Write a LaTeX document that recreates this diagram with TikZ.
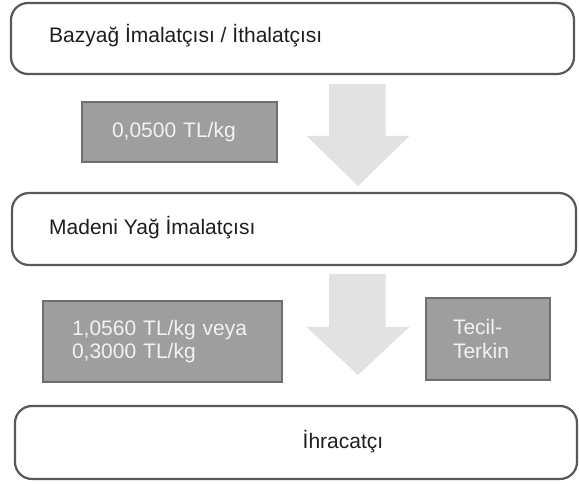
\documentclass[tikz,border=0pt]{standalone}
\usepackage{fontspec}
\setmainfont{Liberation Sans}
\definecolor{rim}{HTML}{585858}
\definecolor{ink}{HTML}{1E1E1E}
\definecolor{feefill}{HTML}{9E9E9E}
\definecolor{feerim}{HTML}{6E6E6E}
\definecolor{feetext}{HTML}{F2F2F2}
\definecolor{flowfill}{HTML}{E2E2E2}

\begin{document}
\begin{tikzpicture}[x=1pt,y=-1pt,
  stage/.style={draw=rim, line width=2.2pt, rounded corners=17pt, fill=white},
  fee/.style={draw=feerim, line width=2.2pt, fill=feefill, text=feetext,
    font=\fontsize{21}{23.5}\selectfont, align=left},
  lbl/.style={font=\fontsize{21}{24}\selectfont, text=ink, inner sep=0pt}]
\useasboundingbox (0,0) rectangle (579,486);
\node[stage, minimum width=563, minimum height=71] (bazyag) at (292.5,38.5) {};
\node[stage, minimum width=564, minimum height=72] (madeni) at (294,229) {};
\node[stage, minimum width=562, minimum height=73] (ihracatci) at (296,442.5) {};
\node[lbl, anchor=base west] (bazyagtext) at (49,43) {Bazyağ İmalatçısı / İthalatçısı};
\node[lbl, anchor=base west] (madenitext) at (49,235) {Madeni Yağ İmalatçısı};
\node[lbl, anchor=base] (ihracatcitext) at (343,449) {İhracatçı};
\foreach \top/\neck/\tip in {84/136/186, 274/327/375}
    {\fill [flowfill] (329,\top) -- (385.5,\top) -- (385.5,\neck) -- (409.5,\neck)
      -- (358,\tip) -- (306.5,\neck) -- (329,\neck) -- cycle;}
\node[fee, minimum width=195, minimum height=60, text width=135, inner xsep=30] (fee1) at (179.5,132) {0,0500 TL/kg};
\node[fee, minimum width=239, minimum height=81, text width=181, inner xsep=29] (fee2) at (162.5,341.5) {1,0560 TL/kg veya\\0,3000 TL/kg};
\node[fee, minimum width=124, minimum height=82, text width=70, inner xsep=27] (tecil) at (488,339) {Tecil-\\Terkin};
\end{tikzpicture}
\end{document}
